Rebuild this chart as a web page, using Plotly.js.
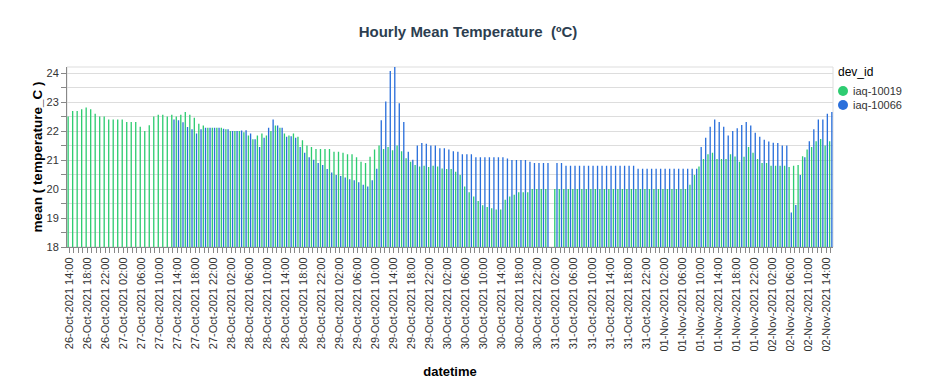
<!DOCTYPE html>
<html>
<head>
<meta charset="utf-8">
<script src="https://cdn.plot.ly/plotly-3.0.1.min.js"></script>
<style>html,body{margin:0;padding:0;background:#fff;}#chart{width:936px;height:379px;}</style>
</head>
<body>
<div id="chart"></div>
<script>
// Hourly timestamps from 26-Oct-2021 14:00 to 02-Nov-2021 15:00 (170 hours)
const hourCount = 170;
const hours = [];
(function () {
  const t0 = Date.UTC(2021, 9, 26, 14, 0, 0);
  for (let i = 0; i < hourCount; i++) {
    const d = new Date(t0 + i * 3600000);
    const p = n => String(n).padStart(2, '0');
    hours.push(d.getUTCFullYear() + '-' + p(d.getUTCMonth() + 1) + '-' + p(d.getUTCDate()) + ' ' + p(d.getUTCHours()) + ':00');
  }
})();

const deviceIds = ['iaq-10019', 'iaq-10066'];

// mean temperature_C, iaq-10019
const temp10019 = [
  22.50,22.69,22.69,22.75,22.81,22.75,22.60,22.50,22.50,22.40,
  22.40,22.40,22.40,22.31,22.31,22.31,22.15,22.00,22.20,22.50,
  22.56,22.56,22.50,22.56,22.50,22.56,22.66,22.56,22.46,22.25,
  22.19,22.11,22.11,22.11,22.11,22.06,22.00,22.00,22.00,21.96,
  21.85,21.72,21.85,21.92,21.85,22.00,22.19,22.11,21.92,21.85,
  21.92,21.80,21.68,21.50,21.45,21.38,21.38,21.38,21.38,21.29,
  21.29,21.25,21.20,21.20,21.10,20.94,20.90,21.11,21.36,21.50,
  21.38,21.45,21.34,21.50,21.30,21.06,20.94,20.83,20.78,20.80,
  20.76,20.80,20.78,20.71,20.69,20.69,20.60,20.48,20.09,19.89,
  19.74,19.59,19.44,19.38,19.34,19.29,19.29,19.63,19.74,19.80,
  19.89,19.89,19.89,20.00,20.00,20.00,20.00,null,20.00,20.00,
  20.00,20.00,20.00,20.00,20.00,20.00,20.00,20.00,20.00,20.00,
  20.00,20.00,20.00,20.00,20.00,20.00,20.00,20.00,20.00,20.00,
  20.00,20.00,20.00,20.00,20.00,20.00,20.00,20.00,20.15,20.48,
  20.78,21.04,21.20,21.25,21.04,21.04,21.04,21.20,21.12,20.94,
  21.11,21.45,21.25,21.04,20.90,20.90,20.80,20.80,20.80,20.80,
  20.76,20.80,20.83,21.13,21.36,21.45,21.65,21.73,21.50,21.65
];

// mean temperature_C, iaq-10066
const temp10066 = [
  null,null,null,null,null,null,null,null,null,null,
  null,null,null,null,null,null,null,null,null,null,
  null,null,null,22.40,22.37,22.30,22.14,22.06,21.92,22.06,
  22.11,22.11,22.11,22.11,22.08,22.06,22.00,22.00,22.02,22.03,
  21.92,21.72,21.45,21.77,22.11,22.40,22.19,22.11,21.80,21.82,
  21.77,21.45,21.25,21.10,21.01,20.90,20.83,20.69,20.57,20.48,
  20.45,20.40,20.34,20.30,20.23,20.15,20.09,20.30,20.70,22.37,
  23.02,24.07,24.21,22.96,22.31,21.29,21.01,21.50,21.59,21.56,
  21.50,21.50,21.41,21.41,21.36,21.30,21.29,21.20,21.20,21.20,
  21.10,21.10,21.10,21.10,21.10,21.10,21.10,21.05,21.00,21.00,
  21.00,21.00,20.94,20.90,20.90,20.90,20.90,null,20.90,20.90,
  20.80,20.80,20.80,20.80,20.80,20.80,20.80,20.80,20.80,20.80,
  20.80,20.80,20.80,20.80,20.80,20.80,20.70,20.70,20.70,20.70,
  20.70,20.70,20.70,20.70,20.70,20.70,20.70,20.70,20.70,20.70,
  21.45,21.77,22.15,22.40,22.31,22.15,21.85,22.00,22.10,22.21,
  22.31,22.19,21.94,21.80,21.70,21.64,21.60,21.59,21.50,21.50,
  19.19,19.45,20.48,21.10,21.65,22.06,22.40,22.40,22.60,22.66
];

const legendTitle = 'dev_id';
const colors = ['#2ecc71', '#2a6fdb'];
const series = [temp10019, temp10066];

const FONT = 'Arial, "Liberation Sans", sans-serif';

// plot area in pixels (for placing the hand-made legend)
const M = { l: 67, r: 103, t: 67, b: 132 };
const W = 936, H = 379;
const pw = W - M.l - M.r, ph = H - M.t - M.b;
const px = x => (x - M.l) / pw;
const py = y => (H - M.b - y) / ph;

const traces = series.map((vals, i) => ({
  type: 'bar', x: hours, y: vals, name: deviceIds[i],
  marker: { color: colors[i], line: { width: 0 } },
  showlegend: false, hoverinfo: 'x+y+name'
}));

const shapes = [{
  type: 'rect', xref: 'paper', yref: 'paper', x0: 0, x1: 1, y0: 0, y1: 1,
  line: { color: '#ddd', width: 1 }, fillcolor: 'rgba(0,0,0,0)', layer: 'below'
}];
const annotations = [{
  xref: 'paper', yref: 'paper', x: px(836), y: py(72), xanchor: 'left', yanchor: 'middle',
  text: legendTitle, showarrow: false, font: { family: FONT, size: 12, color: '#000' }
}];
deviceIds.forEach((id, i) => {
  const cy = 91 + i * 14;
  shapes.push({
    type: 'circle', xref: 'paper', yref: 'paper', xsizemode: 'pixel', ysizemode: 'pixel',
    xanchor: px(843), yanchor: py(cy), x0: -5, x1: 5, y0: -5, y1: 5,
    fillcolor: colors[i], line: { width: 0 }
  });
  annotations.push({
    xref: 'paper', yref: 'paper', x: px(851), y: py(cy), xanchor: 'left', yanchor: 'middle',
    text: id, showarrow: false, font: { family: FONT, size: 11, color: '#333' }
  });
});

const layout = {
  width: W, height: H,
  margin: M,
  paper_bgcolor: '#fff', plot_bgcolor: '#fff',
  font: { family: FONT, size: 11, color: '#333' },
  barmode: 'group', bargap: 0.02, bargroupgap: 0.4,
  showlegend: false,
  title: {
    text: 'Hourly Mean Temperature \u00a0(ºC)',
    x: 0.5, xref: 'container', xanchor: 'center',
    y: 1 - 32 / 379, yref: 'container', yanchor: 'middle',
    font: { family: FONT, size: 15, color: '#2c3e50', weight: 'bold' }
  },
  xaxis: {
    type: 'date',
    range: ['2021-10-26 13:30', '2021-11-02 15:30'],
    tick0: '2021-10-26 14:00', dtick: 4 * 3600000,
    tickformat: '%d-%b-%Y %H:%M', tickangle: -90,
    ticks: 'outside', ticklen: 5, tickcolor: '#888', tickwidth: 1,
    showgrid: false, zeroline: false,
    showline: true, linecolor: '#888', linewidth: 1,
    tickfont: { family: FONT, size: 11, color: '#333' },
    minor: { dtick: 3600000, ticks: 'outside', ticklen: 5, tickcolor: '#888', showgrid: false },
    title: { text: '<b>datetime</b>', standoff: 16, font: { family: FONT, size: 13, color: '#000' } },
    automargin: false, fixedrange: true
  },
  yaxis: {
    range: [18, 24.21], tick0: 18, dtick: 1,
    ticks: 'outside', ticklen: 5, tickcolor: '#888',
    showgrid: true, gridcolor: '#ddd', gridwidth: 1, zeroline: false,
    showline: true, linecolor: '#888', linewidth: 1,
    tickfont: { family: FONT, size: 11, color: '#333' },
    minor: { dtick: 0.5, ticks: 'outside', ticklen: 5, tickcolor: '#888', showgrid: true, gridcolor: '#ddd' },
    title: { text: '<b>mean ( temperature_C )</b>', standoff: 0, font: { family: FONT, size: 13.5, color: '#000' } },
    automargin: false, fixedrange: true
  },
  shapes: shapes,
  annotations: annotations
};

Plotly.newPlot('chart', traces, layout, { displayModeBar: false, staticPlot: true });
</script>
</body>
</html>
